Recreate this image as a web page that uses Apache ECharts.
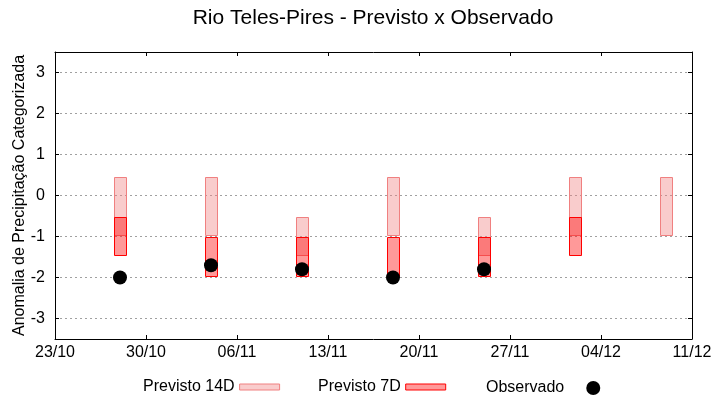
<!DOCTYPE html>
<html>
<head>
<meta charset="utf-8">
<script src="https://cdn.jsdelivr.net/npm/echarts@6/dist/echarts.min.js"></script>
<style>
html, body { margin: 0; padding: 0; background: #fff; }
#chart { width: 720px; height: 400px; }
</style>
</head>
<body>
<div id="chart"></div>
<script>
// ---- data ----
const startDate = '2023-10-23';
const endDate = '2023-12-11';
const forecastDates = ['2023-10-28', '2023-11-04', '2023-11-11', '2023-11-18', '2023-11-25', '2023-12-02', '2023-12-09'];
const prev14Low  = [-0.96, -0.96, -1.45, -0.96, -1.45, -0.96, -0.96];
const prev14High = [0.44, 0.44, -0.52, 0.44, -0.52, 0.44, 0.44];
const prev7Low   = [-1.45, -1.96, -1.96, -1.96, -1.96, -1.45, null];
const prev7High  = [-0.52, -1.0, -1.0, -1.0, -1.0, -0.52, null];
const observed   = [-2.0, -1.7, -1.8, -2.0, -1.8, null, null];
const yTickLabels = ['-3', '-2', '-1', '0', '1', '2', '3'];
const titleText = 'Rio Teles-Pires - Previsto x Observado';
const yName = 'Anomalia de Precipitação Categorizada';
const seriesNames = ['Previsto 14D', 'Previsto 7D', 'Observado'];

// ---- helpers ----
const DAY = 86400000;
function toUTC(s) { const p = s.split('-').map(Number); return Date.UTC(p[0], p[1] - 1, p[2]); }
const t0 = toUTC(startDate);
const dayOf = s => Math.round((toUTC(s) - t0) / DAY);
const xMax = dayOf(endDate);
function dayLabel(v) {
  const d = new Date(t0 + v * DAY);
  const dd = String(d.getUTCDate()).padStart(2, '0');
  const mm = String(d.getUTCMonth() + 1).padStart(2, '0');
  return dd + '/' + mm;
}
const xs = forecastDates.map(dayOf);
const data14 = xs.map((x, i) => [x, prev14Low[i], prev14High[i]]);
const data7 = xs.map((x, i) => [x, prev7Low[i], prev7High[i]]).filter(d => d[1] != null);
const dataObs = xs.map((x, i) => [x, observed[i]]).filter(d => d[1] != null);

const FILL14 = 'rgba(240,128,128,0.4)', STROKE14 = '#f08080';
const FILL7 = 'rgba(255,0,0,0.4)', STROKE7 = '#ff0000';
const FONT = 'Liberation Sans, Arial, sans-serif';

function barRenderer(fill, stroke) {
  return function (params, api) {
    const x = api.value(0), lo = api.value(1), hi = api.value(2);
    const pTop = api.coord([x, hi]);
    const pBot = api.coord([x, lo]);
    const w = 12;
    const left = Math.round(pTop[0] - w / 2) + 0.5;
    const top = Math.round(pTop[1]) + 0.5;
    const bot = Math.round(pBot[1]) + 0.5;
    return {
      type: 'rect',
      shape: { x: left, y: top, width: w, height: bot - top },
      style: { fill: fill, stroke: stroke, lineWidth: 1 }
    };
  };
}

const axisLineStyle = { color: '#000', width: 1 };
const legendBase = {
  orient: 'horizontal', align: 'right', padding: 0, itemGap: 0,
  textStyle: { fontFamily: FONT, fontSize: 16, color: '#000' },
  selectedMode: false
};

const chart = echarts.init(document.getElementById('chart'), null, { renderer: 'canvas' });
chart.setOption({
  animation: false,
  backgroundColor: '#fff',
  title: {
    text: titleText, left: 373, top: 8, padding: 0, textAlign: 'center',
    textStyle: { fontFamily: FONT, fontSize: 21, fontWeight: 'normal', color: '#000' }
  },
  legend: [
    Object.assign({}, legendBase, {
      left: 143, top: 379, itemWidth: 40, itemHeight: 6,
      data: [{ name: seriesNames[0], icon: 'rect', itemStyle: { color: FILL14, borderColor: STROKE14, borderWidth: 1 } }]
    }),
    Object.assign({}, legendBase, {
      left: 318, top: 379, itemWidth: 40, itemHeight: 6,
      data: [{ name: seriesNames[1], icon: 'rect', itemStyle: { color: FILL7, borderColor: STROKE7, borderWidth: 1 } }]
    }),
    Object.assign({}, legendBase, {
      left: 486, top: 380, itemWidth: 48, itemHeight: 14,
      data: [{ name: seriesNames[2], icon: 'circle', itemStyle: { color: '#000', borderWidth: 0, opacity: 1 } }]
    })
  ],
  grid: { left: 55, right: 28, top: 52, bottom: 61, containLabel: false, outerBoundsMode: 'none' },
  xAxis: [{
    type: 'value', min: 0, max: xMax, interval: 7, position: 'bottom',
    axisLine: { show: true, onZero: false, lineStyle: axisLineStyle },
    axisTick: { show: true, inside: true, length: 4, lineStyle: axisLineStyle },
    axisLabel: { formatter: dayLabel, margin: 6, fontFamily: FONT, fontSize: 16, color: '#000', showMinLabel: true, showMaxLabel: true },
    splitLine: { show: false }
  }, {
    type: 'value', min: 0, max: xMax, interval: 7, position: 'top',
    axisLine: { show: true, onZero: false, lineStyle: axisLineStyle },
    axisTick: { show: true, inside: true, length: 4, lineStyle: axisLineStyle },
    axisLabel: { show: false }, splitLine: { show: false }
  }],
  yAxis: [{
    type: 'value', min: -3.5, max: 3.5, splitNumber: 7, position: 'left',
    name: yName, nameLocation: 'middle', nameGap: 27, nameRotate: 90, nameMoveOverlap: false,
    nameTextStyle: { fontFamily: FONT, fontSize: 16, color: '#000' },
    axisLine: { show: true, onZero: false, lineStyle: axisLineStyle },
    axisTick: { show: true, inside: true, length: 4, lineStyle: axisLineStyle },
    axisLabel: {
      margin: 10, fontFamily: FONT, fontSize: 16, color: '#000',
      showMinLabel: false, showMaxLabel: false,
      formatter: v => (Number.isInteger(v) ? yTickLabels[v + 3] : '')
    },
    splitLine: { show: true, showMinLine: false, showMaxLine: false, lineStyle: { color: '#a0a0a0', width: 1, type: [2, 3] } }
  }, {
    type: 'value', min: -3.5, max: 3.5, splitNumber: 7, position: 'right',
    axisLine: { show: true, onZero: false, lineStyle: axisLineStyle },
    axisTick: { show: true, inside: true, length: 4, lineStyle: axisLineStyle },
    axisLabel: { show: false }, splitLine: { show: false }
  }],
  series: [{
    name: seriesNames[0], type: 'custom', xAxisIndex: 0, yAxisIndex: 0,
    renderItem: barRenderer(FILL14, STROKE14),
    itemStyle: { color: FILL14, borderColor: STROKE14 },
    encode: { x: 0, y: [1, 2] },
    data: data14, z: 2
  }, {
    name: seriesNames[1], type: 'custom', xAxisIndex: 0, yAxisIndex: 0,
    renderItem: barRenderer(FILL7, STROKE7),
    itemStyle: { color: FILL7, borderColor: STROKE7 },
    encode: { x: 0, y: [1, 2] },
    data: data7, z: 3
  }, {
    name: seriesNames[2], type: 'scatter', xAxisIndex: 0, yAxisIndex: 0,
    symbol: 'circle', symbolSize: 14,
    itemStyle: { color: '#000', opacity: 1 },
    data: dataObs, z: 4
  }]
});
</script>
</body>
</html>
